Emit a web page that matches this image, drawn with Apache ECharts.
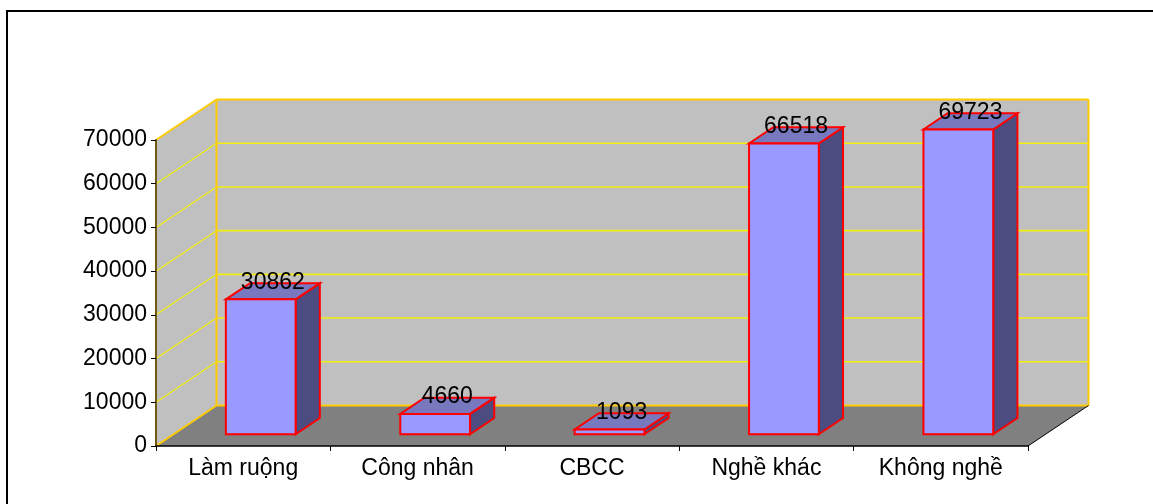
<!DOCTYPE html>
<html>
<head>
<meta charset="utf-8">
<script src="https://cdn.jsdelivr.net/npm/echarts@6/dist/echarts.min.js"></script>
<style>
  html, body { margin: 0; padding: 0; background: #fff; }
  #chart { width: 1153px; height: 504px; }
</style>
</head>
<body>
<div id="chart"></div>
<script>
// Occupation breakdown
const categories = ['Làm ruộng', 'Công nhân', 'CBCC', 'Nghề khác', 'Không nghề'];
const values = [30862, 4660, 1093, 66518, 69723];
const yTicks = [0, 10000, 20000, 30000, 40000, 50000, 60000, 70000];

// 3D projection: depth vector of the plot box and the slab the bars occupy
const DX = 60.5, DY = -40.5;
const Z0 = 0.29, Z1 = 0.69;
const BAR_HALF = 0.2; // fraction of the category band

const FONT = 'Liberation Sans, Arial, sans-serif';
const FONT_SIZE = 23;

const chart = echarts.init(document.getElementById('chart'));

function renderWalls(params, api) {
  const cs = params.coordSys;
  const x = cs.x, y = cs.y, w = cs.width, h = cs.height;
  const children = [];
  const poly = (pts, fill) => ({ type: 'polygon', shape: { points: pts }, style: { fill: fill, stroke: null } });
  const line = (x1, y1, x2, y2, color, lw) => ({
    type: 'line', shape: { x1, y1, x2, y2 }, style: { stroke: color, lineWidth: lw }
  });
  // left side wall
  children.push(poly([[x, y], [x + DX, y + DY], [x + DX, y + h + DY], [x, y + h]], '#C0C0C0'));
  // back wall
  children.push(poly([[x + DX, y + DY], [x + w + DX, y + DY], [x + w + DX, y + h + DY], [x + DX, y + h + DY]], '#C0C0C0'));
  // floor
  children.push(poly([[x, y + h], [x + DX, y + h + DY], [x + w + DX, y + h + DY], [x + w, y + h]], '#808080'));
  // gridlines
  yTicks.forEach(v => {
    if (v === yTicks[0] || v === yTicks[yTicks.length - 1]) return;
    const py = api.coord([0, v])[1];
    children.push(line(x, py, x + DX, py + DY, '#F2EE10', 1.2));
    children.push(line(x + DX, py + DY, x + w + DX, py + DY, '#F2EE10', 1.6));
  });
  // wall edges
  const edge = '#FFCC00';
  children.push(line(x, y, x + DX, y + DY, edge, 2));
  children.push(line(x + DX, y + DY, x + w + DX, y + DY, edge, 2));
  children.push(line(x + w + DX, y + DY, x + w + DX, y + h + DY, edge, 2));
  children.push(line(x + DX, y + DY, x + DX, y + h + DY, edge, 2));
  children.push(line(x + DX, y + h + DY, x + w + DX, y + h + DY, edge, 2));
  children.push(line(x, y + h, x + DX, y + h + DY, edge, 2));
  // right edge of the floor
  children.push(line(x + w, y + h, x + w + DX, y + h + DY, '#000', 1));
  return { type: 'group', children };
}

function renderBar(params, api) {
  const i = api.value(0), v = api.value(1);
  const base = api.coord([i, 0]);
  const top = api.coord([i, v]);
  const half = api.size([1, 0])[0] * BAR_HALF;
  const cx = base[0];
  const P = (dx, yy, z) => [cx + dx + z * DX, yy + z * DY];
  const y0 = base[1], y1 = top[1];
  const stroke = { stroke: '#FF0000', lineWidth: 2, lineJoin: 'miter' };
  const side = { type: 'polygon', shape: { points: [P(half, y0, Z0), P(half, y0, Z1), P(half, y1, Z1), P(half, y1, Z0)] },
    style: Object.assign({ fill: '#4C4C80' }, stroke) };
  const topFace = { type: 'polygon', shape: { points: [P(-half, y1, Z0), P(half, y1, Z0), P(half, y1, Z1), P(-half, y1, Z1)] },
    style: Object.assign({ fill: '#7878BE' }, stroke) };
  const front = { type: 'polygon', shape: { points: [P(-half, y0, Z0), P(half, y0, Z0), P(half, y1, Z0), P(-half, y1, Z0)] },
    style: Object.assign({ fill: '#9999FF' }, stroke) };
  const lp = P(0, y1, (Z0 + Z1) / 2);
  const label = { type: 'text', x: lp[0], y: lp[1] - 9, z2: 10,
    style: { text: String(v), fill: '#000', font: FONT_SIZE + 'px ' + FONT, align: 'center', verticalAlign: 'middle' } };
  return { type: 'group', children: [side, topFace, front, label] };
}

chart.setOption({
  animation: false,
  backgroundColor: '#fff',
  graphic: [{
    type: 'rect', shape: { x: 7, y: 11, width: 1400, height: 800 },
    style: { fill: null, stroke: '#000', lineWidth: 2 }, z: 100
  }],
  grid: { left: 156, right: 125, top: 140, bottom: 58 },
  xAxis: {
    type: 'category', data: categories, z: 10,
    axisLine: { lineStyle: { color: '#000', width: 1.5 } },
    axisTick: { show: true, length: 5, lineStyle: { color: '#000' } },
    axisLabel: { color: '#000', fontSize: FONT_SIZE, fontFamily: FONT, margin: 11 },
    splitLine: { show: false }
  },
  yAxis: {
    type: 'value', min: 0, max: 70000, interval: 10000, z: 10,
    axisLine: { show: true, lineStyle: { color: '#6E5A10', width: 2 } },
    axisTick: { show: true, length: 5, lineStyle: { color: '#000' } },
    axisLabel: { color: '#000', fontSize: FONT_SIZE, fontFamily: FONT, margin: 9, formatter: v => String(v) },
    splitLine: { show: false }
  },
  series: [
    { type: 'custom', renderItem: renderWalls, data: [[0, 0]], z: 1, silent: true },
    { type: 'custom', renderItem: renderBar, data: values.map((v, i) => [i, v]), z: 3 }
  ]
});
</script>
</body>
</html>
